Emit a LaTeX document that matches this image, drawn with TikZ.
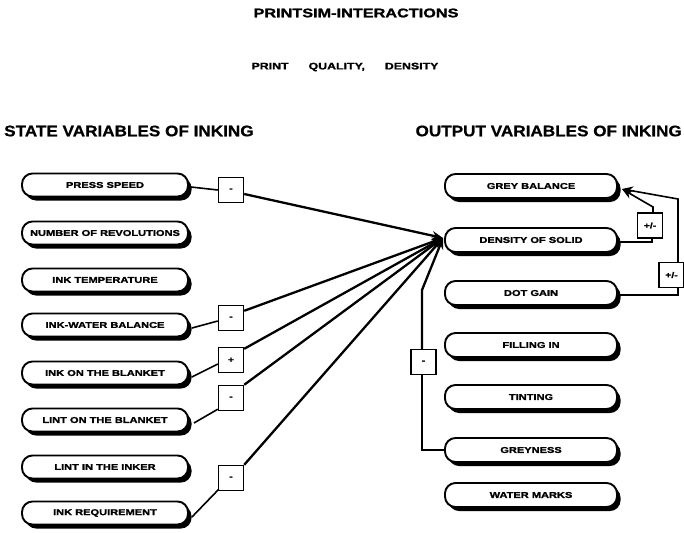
\documentclass[tikz,border=0pt]{standalone}
\usepackage{fontspec}
\setmainfont{Liberation Sans}
\newfontfamily\widefont[FakeStretch=1.3,BoldFeatures={FakeBold=1.6}]{Liberation Sans}
\newfontfamily\headfont[FakeStretch=1.12,BoldFeatures={FakeBold=0.8}]{Liberation Sans}
\usetikzlibrary{shadows,arrows.meta,calc}

\begin{document}
\begin{tikzpicture}[x=1pt,y=-1pt,
  varbox/.style={draw, line width=1.9pt, fill=white, rounded corners=10.5pt,
    minimum height=23pt, inner sep=0pt,
    font=\widefont\bfseries\fontsize{8.5}{10}\selectfont,
    drop shadow={shadow xshift=3.5pt, shadow yshift=-4pt, fill=black, opacity=1}},
  leftbox/.style={varbox, minimum width=166pt},
  rightbox/.style={varbox, minimum width=172pt, minimum height=24pt},
  signbox/.style={draw, line width=1.4pt, fill=white, minimum size=25pt,
    inner sep=0pt, font=\widefont\bfseries\fontsize{8}{9}\selectfont},
  link/.style={line width=1.6pt},
  feed/.style={line width=2.3pt},
  tip/.style={-{Stealth[length=11pt,width=9pt]}},
  heading/.style={inner sep=0pt, font=\headfont\bfseries\fontsize{15.3}{17}\selectfont}
]
\useasboundingbox (0,0) rectangle (684,532);

% titles
\node[inner sep=0pt, font=\widefont\bfseries\fontsize{12.5}{14}\selectfont] (title) at (356,13) {PRINTSIM-INTERACTIONS};
\node[inner sep=0pt, font=\widefont\bfseries\fontsize{9.5}{11}\selectfont] (sub) at (345,67) {PRINT\hspace{20pt}QUALITY,\hspace{20pt}DENSITY};
\node[heading, anchor=west] (hl) at (4,131) {STATE VARIABLES OF INKING};
\node[heading, anchor=east] (hr) at (682,131) {OUTPUT VARIABLES OF INKING};

% state variables
\node[leftbox] (ps) at (105,185) {PRESS SPEED};
\node[leftbox] (nr) at (105,233) {NUMBER OF REVOLUTIONS};
\node[leftbox] (it) at (105,280) {INK TEMPERATURE};
\node[leftbox] (iw) at (105,325) {INK-WATER BALANCE};
\node[leftbox] (ib) at (105,373) {INK ON THE BLANKET};
\node[leftbox] (lb) at (105,420) {LINT ON THE BLANKET};
\node[leftbox] (li) at (105,467) {LINT IN THE INKER};
\node[leftbox] (ir) at (105,513) {INK REQUIREMENT};

% output variables
\node[rightbox] (gb) at (531,186) {GREY BALANCE};
\node[rightbox] (ds) at (531,240) {DENSITY OF SOLID};
\node[rightbox] (dg) at (531,293) {DOT GAIN};
\node[rightbox] (fi) at (531,345) {FILLING IN};
\node[rightbox] (ti) at (531,397) {TINTING};
\node[rightbox] (gy) at (531,450) {GREYNESS};
\node[rightbox] (wm) at (531,495) {WATER MARKS};

% sign boxes
\node[signbox] (s1) at (231,190) {-};
\node[signbox] (s2) at (231,318) {-};
\node[signbox] (s3) at (231,360) {+};
\node[signbox] (s4) at (231,398) {-};
\node[signbox] (s5) at (231,478) {-};
\node[signbox] (s6) at (423.5,362) {-};
\node[signbox] (s7) at (650,225.5) {+/-};
\node[signbox] (s8) at (671.5,275) {+/-};

% junction points
\coordinate (tgt) at (443,238);
\coordinate (gbin) at (622,189);
\coordinate (gbend) at (422,290);
\coordinate (rv) at (678,199);
\coordinate (r7) at (653,207);

% influences on the density of solid
\draw[link] ($(ps.east)+(2,2)$) -- (s1.west);
\draw[feed,tip] ($(s1.east)+(0,4)$) -- (tgt);
\draw[link] ($(iw.east)+(3,3)$) -- ($(s2.west)+(0,3)$);
\draw[feed,tip] ($(s2.north east)+(0,6)$) -- (tgt);
\draw[link] ($(ib.east)+(3,4)$) -- ($(s3.west)+(0,4)$);
\draw[feed,tip] ($(s3.north east)+(0,2)$) -- (tgt);
\draw[link] ($(lb.east)+(5,3)$) -- ($(s4.south west)+(0,-2)$);
\draw[feed,tip] (s4.north east) -- (tgt);
\draw[link] ($(ir.east)+(3,4)$) -- ($(s5.south west)+(1,-2)$);
\draw[feed,tip] (s5.north east) -- (tgt);
\draw[link] (gy.west) -- (gy.west -| gbend) -- (s6.south -| gbend);
\draw[feed,tip] (s6.north -| gbend) -- (gbend) -- (tgt);

% feedback to the grey balance
\draw[link] ($(ds.east)+(2,2)$) -| ($(s7.south)+(2,0)$);
\draw[link,tip] ($(s7.north)+(3,0)$) -- (r7) -- (gbin);
\draw[link] ($(dg.east)+(2,2)$) -| (s8.south -| rv);
\draw[link,tip] (s8.north -| rv) -- (rv) -- (gbin);
\end{tikzpicture}
\end{document}
